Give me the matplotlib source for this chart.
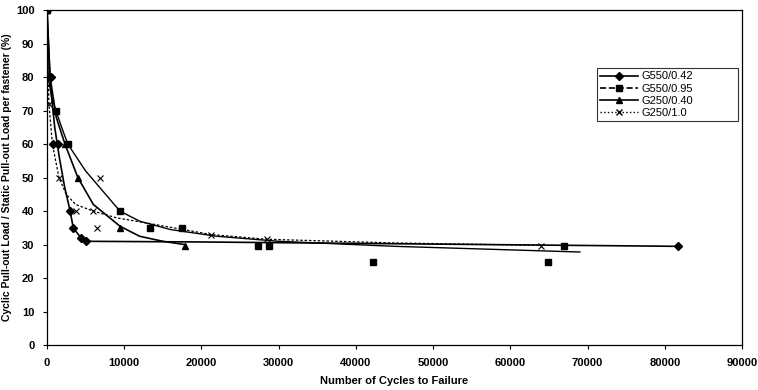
import matplotlib.pyplot as plt

plt.rcParams['font.family'] = ['Liberation Sans', 'DejaVu Sans']

# marker data (cycles, % load)
g550_042_x = [0, 500, 800, 1400, 3000, 3400, 4400, 5000, 81700]
g550_042_y = [100, 80, 60, 60, 40, 35, 32, 31, 29.5]
g550_095_x = [0, 100, 1150, 2700, 9450, 13300, 17500, 27300, 28700, 42200, 64900, 66900]
g550_095_y = [100, 80, 70, 60, 40, 35, 35, 29.7, 29.7, 24.8, 24.8, 29.7]
g250_040_x = [0, 2330, 4000, 9450, 17900]
g250_040_y = [100, 60, 50, 35, 29.7]
g250_10_x = [0, 250, 1550, 3700, 6000, 6450, 6900, 21300, 28500, 64000]
g250_10_y = [100, 72, 50, 40, 40, 35, 50, 33, 31.6, 29.6]

# fitted curves as they appear on the chart
c1_x = [0, 300, 600, 1000, 1600, 2300, 3000, 3400, 4400, 5000, 20000, 81700]
c1_y = [100, 84, 74, 65, 56, 47, 40, 35, 32, 31, 30.8, 29.5]
c2_x = [0, 150, 600, 1150, 1900, 2700, 5000, 9450, 12000, 16000, 22000, 30000, 45000, 69000]
c2_y = [100, 80, 74, 70, 65, 60, 52, 40, 37, 34.5, 32.5, 31, 29.5, 27.8]
c3_x = [0, 400, 1200, 2330, 4000, 6000, 9450, 12000, 15000, 17900]
c3_y = [100, 80, 68, 60, 50, 42, 35.5, 32.5, 31, 30]
c4_x = [0, 100, 250, 700, 1550, 2500, 3700, 6000, 9000, 13300, 21300, 28500, 45000, 64000]
c4_y = [100, 85, 72, 60, 50, 45, 42, 40, 38, 36.3, 33, 31.6, 30.5, 29.8]

fig = plt.figure(figsize=(7.58, 3.9), dpi=100)
ax = fig.add_axes([0.062, 0.115, 0.917, 0.859])

ax.plot(c1_x, c1_y, color='black', lw=1.2)
ax.plot(c2_x, c2_y, color='black', lw=1.0)
ax.plot(c3_x, c3_y, color='black', lw=1.2)
ax.plot(c4_x, c4_y, color='black', lw=0.9, ls=(0, (2, 1.5)))

ax.plot(g550_042_x, g550_042_y, 'D', color='black', ms=4, ls='none')
ax.plot(g550_095_x, g550_095_y, 's', color='black', ms=4.5, ls='none')
ax.plot(g250_040_x, g250_040_y, '^', color='black', ms=5, ls='none')
ax.plot(g250_10_x, g250_10_y, 'x', color='black', ms=5, mew=0.8, ls='none')

# legend handles: line + marker
h1, = ax.plot([], [], '-D', color='black', ms=4, lw=1.2)
h2, = ax.plot([], [], '--s', color='black', ms=4.5, lw=1.2)
h3, = ax.plot([], [], '-^', color='black', ms=5, lw=1.2)
h4, = ax.plot([], [], ':x', color='black', ms=5, lw=1.0)
leg = ax.legend([h1, h2, h3, h4], ['G550/0.42', 'G550/0.95', 'G250/0.40', 'G250/1.0'],
                loc='upper left', bbox_to_anchor=(0.791, 0.827, 0.203, 0.0),
                mode='expand', fontsize=8,
                frameon=True, fancybox=False, edgecolor='black', handlelength=3.4,
                borderpad=0.3, labelspacing=0.2, handletextpad=0.3, borderaxespad=0)
leg.get_frame().set_linewidth(0.8)

ax.set_xlim(0, 90000)
ax.set_ylim(0, 100)
ax.set_xticks(range(0, 90001, 10000))
ax.set_yticks(range(0, 101, 10))
for lab in ax.get_xticklabels() + ax.get_yticklabels():
    lab.set_fontweight('bold')
    lab.set_fontsize(8)
ax.tick_params(direction='out', length=3, width=0.8, pad=6)
for s in ax.spines.values():
    s.set_linewidth(0.9)

ax.set_xlabel('Number of Cycles to Failure', fontsize=8, fontweight='bold', labelpad=6)
ax.set_ylabel('Cyclic Pull-out Load / Static Pull-out Load per fastener (%)',
              fontsize=7.5, fontweight='bold', labelpad=3)

fig.savefig('out.png', dpi=100)
